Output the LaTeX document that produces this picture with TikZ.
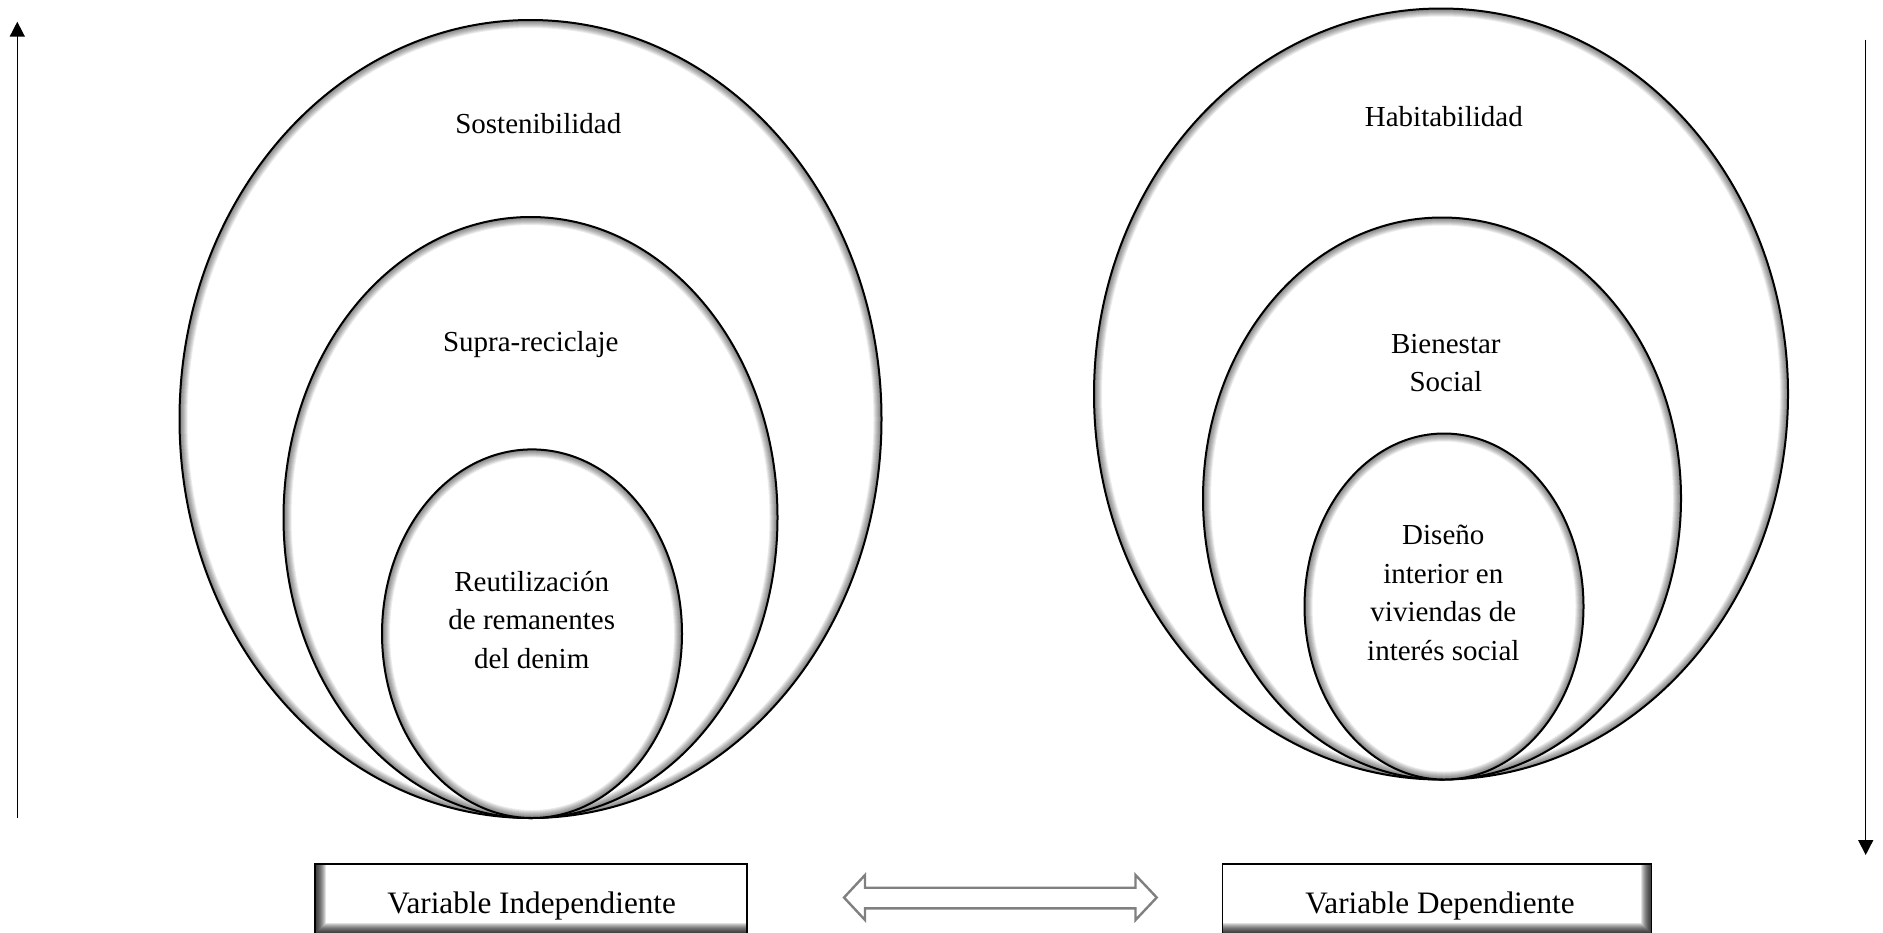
\documentclass[tikz,border=0pt]{standalone}
\usepackage{fontspec}
\setmainfont{Liberation Serif}
\usetikzlibrary{arrows.meta,shapes.geometric}

\tikzset{
  % nested concept ellipse with a soft inner shadow along its rim
  ring/.style n args={2}{ellipse, draw=black, line width=1pt, fill=white,
    inner sep=0pt, outer sep=0pt, minimum width=#1, minimum height=#2,
    path picture={
      \foreach \w in {1,2,...,8}{
        \draw[black, opacity=0.075, line width=\w pt]
          (path picture bounding box.center) ellipse [x radius=#1/2, y radius=#2/2];
      }}},
  % multi-line labels sit on the baseline of their last line
  lbl/.style={anchor=base, align=center, inner sep=0pt,
    font=\fontsize{14.5pt}{19.25pt}\selectfont},
  boxlbl/.style={anchor=base, inner sep=0pt,
    font=\fontsize{15.6pt}{19pt}\selectfont},
  varbox/.style={rectangle, draw=black, line width=0.65pt, fill=white,
    inner sep=0pt, minimum height=35pt},
  shadeleft/.style={path picture={
      \foreach \w in {1,2,...,11}{
        \draw[black, opacity=0.12, line width=\w pt]
          (path picture bounding box.north west) -- (path picture bounding box.south west)
          -- (path picture bounding box.south east);
      }}},
  shaderight/.style={path picture={
      \foreach \w in {1,2,...,11}{
        \draw[black, opacity=0.12, line width=\w pt]
          (path picture bounding box.north east) -- (path picture bounding box.south east)
          -- (path picture bounding box.south west);
      }}},
  axis/.style={line width=0.75pt, -{Triangle[width=7.5pt,length=7.5pt]}},
  linkarrow/.style={draw=gray, line width=1.2pt, line join=miter, fill=white},
}

\begin{document}
\begin{tikzpicture}[x=0.5pt, y=-0.5pt]
  \path[use as bounding box, fill=white] (0,0) rectangle (1883,932);

  % independent variable: nested ellipses
  \node[ring={351pt}{399pt}] (sost) at (530.5,419) {};
  \node[ring={247pt}{300.5pt}] (supra) at (530.5,517.5) {};
  \node[ring={150pt}{184.3pt}] (reut) at (532,633.7) {};
  \node[lbl] (sost-t) at (538.3,133.3) {Sostenibilidad};
  \node[lbl] (supra-t) at (530.8,351.7) {Supra-reciclaje};
  \node[lbl] (reut-t) at (531.7,668.3) {Reutilización\\de remanentes\\del denim};

  % dependent variable: nested ellipses
  \node[ring={347pt}{385.5pt}] (habi) at (1441,394) {};
  \node[ring={239pt}{281pt}] (bien) at (1442,498.5) {};
  \node[ring={139.5pt}{173pt}] (dise) at (1444,606.5) {};
  \node[lbl] (habi-t) at (1443.8,126.7) {Habitabilidad};
  \node[lbl] (bien-t) at (1445.8,391.7) {Bienestar\\Social};
  \node[lbl] (dise-t) at (1443.3,660) {Diseño\\interior en\\viviendas de\\interés social};

  % variable boxes
  \node[varbox, shadeleft, minimum width=216pt] (vi) at (531,899) {};
  \node[varbox, shaderight, minimum width=214.5pt] (vd) at (1437.2,899) {};
  \node[boxlbl] (vi-t) at (531.7,913.3) {Variable Independiente};
  \node[boxlbl] (vd-t) at (1440,913.3) {Variable Dependiente};

  % hollow double arrow between the boxes
  \draw[linkarrow] (844,897.5) -- (865,875) -- (865,887.7) -- (1135.5,887.7)
    -- (1135.5,875) -- (1156.7,897.5) -- (1135.5,920) -- (1135.5,908.3)
    -- (865,908.3) -- (865,920) -- cycle;

  % vertical direction arrows
  \coordinate (upfoot) at (17.3,818);
  \coordinate (uphead) at (17.3,21.7);
  \coordinate (downtop) at (1865.7,39.6);
  \coordinate (downhead) at (1865.7,855);
  \draw[axis] (upfoot) -- (uphead);
  \draw[axis] (downtop) -- (downhead);
\end{tikzpicture}
\end{document}
